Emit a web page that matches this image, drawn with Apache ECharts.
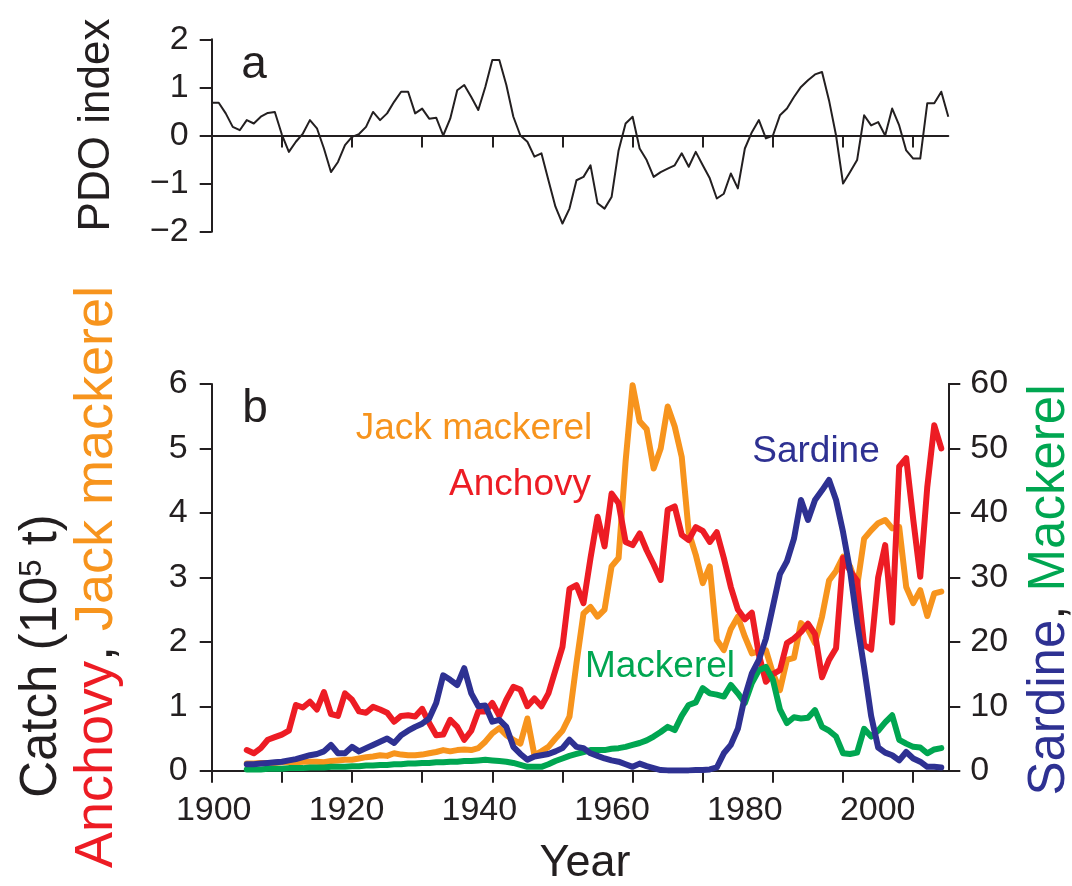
<!DOCTYPE html>
<html>
<head>
<meta charset="utf-8">
<script src="https://cdn.jsdelivr.net/npm/echarts@6/dist/echarts.min.js"></script>
<style>
html,body{margin:0;padding:0;background:#fff;}
#chart{width:1072px;height:886px;}
</style>
</head>
<body>
<div id="chart"></div>
<script>
// ---------- DATA ----------
const pdoStartYear = 1900;
const pdoIndex = [
  0.68, 0.68, 0.46, 0.18, 0.11, 0.32, 0.25, 0.39, 0.47, 0.49,
  0.02,-0.34,-0.13, 0.04, 0.32, 0.15,-0.27,-0.76,-0.55,-0.20,
 -0.03, 0.03, 0.18, 0.49, 0.32, 0.46, 0.70, 0.91, 0.91, 0.46,
  0.56, 0.35, 0.37, 0.00, 0.35, 0.94, 1.05, 0.80, 0.53, 1.01,
  1.57, 1.57, 1.05, 0.39, 0.00,-0.13,-0.44,-0.37,-0.93,-1.48,
 -1.83,-1.52,-0.93,-0.86,-0.62,-1.41,-1.52,-1.28,-0.31, 0.25,
  0.39,-0.27,-0.51,-0.86,-0.76,-0.69,-0.62,-0.37,-0.65,-0.34,
 -0.62,-0.89,-1.31,-1.21,-0.79,-1.10,-0.27, 0.07, 0.32,-0.06,
  0.00, 0.42, 0.56, 0.80, 1.01, 1.15, 1.27, 1.32, 0.73, 0.00,
 -1.00,-0.76,-0.51, 0.42, 0.21, 0.28, 0.00, 0.56, 0.21,-0.31,
 -0.48,-0.48, 0.67, 0.67, 0.91, 0.39
];

const catchStartYear = 1905;
// 10^5 t (left axis)
const anchovy = [
  0.32,0.27,0.35,0.48,0.52,0.56,0.62,1.02,0.98,1.07,
  0.95,1.22,0.88,0.85,1.20,1.10,0.92,0.90,0.99,0.95,
  0.90,0.76,0.85,0.86,0.84,0.96,0.74,0.55,0.56,0.79,
  0.68,0.48,0.62,0.92,0.92,1.05,0.85,1.10,1.30,1.26,
  1.00,1.12,1.00,1.20,1.56,1.92,2.82,2.88,2.60,3.30,
  3.94,3.48,4.30,4.15,3.55,3.50,3.68,3.42,3.20,2.96,
  4.05,4.10,3.66,3.58,3.78,3.72,3.55,3.70,3.30,2.85,
  2.50,2.35,2.45,1.80,1.38,1.50,1.56,1.98,2.05,2.15,
  2.28,2.12,1.45,1.72,1.90,3.30,3.10,2.95,1.95,1.88,
  3.00,3.50,2.30,4.72,4.85,3.90,3.01,4.40,5.36,5.00
];
const jackMackerel = [
  0.11,0.11,0.12,0.12,0.12,0.13,0.13,0.13,0.14,0.14,
  0.14,0.13,0.15,0.16,0.17,0.17,0.19,0.21,0.22,0.24,
  0.23,0.27,0.25,0.24,0.24,0.25,0.27,0.29,0.32,0.30,
  0.32,0.33,0.32,0.35,0.45,0.58,0.66,0.55,0.48,0.42,
  0.81,0.24,0.30,0.37,0.50,0.62,0.84,1.67,2.44,2.54,
  2.39,2.50,3.17,3.30,4.80,5.98,5.42,5.30,4.69,5.00,
  5.65,5.34,4.87,3.70,3.35,2.91,3.17,2.03,1.87,2.20,
  2.39,2.08,1.82,1.85,1.87,1.51,1.25,1.72,1.75,2.29,
  2.19,1.98,2.39,2.95,3.10,3.32,3.17,2.86,3.60,3.73,
  3.84,3.89,3.76,3.78,2.85,2.60,2.80,2.40,2.75,2.78
];
// 10^4 t (right axis)
const sardine = [
  1.0,1.0,1.1,1.2,1.3,1.4,1.6,1.8,2.1,2.4,
  2.6,3.0,4.0,2.7,2.7,3.7,3.0,3.5,4.0,4.5,
  5.0,4.3,5.5,6.2,6.8,7.3,8.1,10.5,14.8,14.1,
  13.3,15.9,12.0,10.0,10.1,7.6,7.9,6.8,3.7,2.6,
  1.7,2.2,2.4,2.6,3.0,3.5,4.8,3.7,3.5,2.7,
  2.3,1.9,1.6,1.4,1.0,0.6,1.1,0.7,0.4,0.1,
  0.05,0.05,0.05,0.05,0.1,0.1,0.2,0.5,2.7,4.0,
  6.5,11.5,15.1,17.2,20.5,25.5,30.5,32.5,36.0,42.0,
  38.9,42.0,43.5,45.1,42.0,37.0,31.0,23.0,16.0,8.5,
  3.6,2.8,2.4,1.6,2.9,1.9,1.4,0.6,0.6,0.5
];
const mackerel = [
  0.2,0.2,0.2,0.3,0.3,0.3,0.4,0.4,0.4,0.5,
  0.5,0.5,0.6,0.6,0.6,0.7,0.7,0.8,0.8,0.9,
  0.9,1.0,1.0,1.1,1.1,1.2,1.2,1.3,1.3,1.4,
  1.4,1.5,1.5,1.6,1.7,1.6,1.5,1.4,1.2,0.9,
  0.6,0.6,0.6,1.0,1.5,1.9,2.3,2.6,2.9,3.2,
  3.2,3.2,3.4,3.5,3.7,4.0,4.3,4.7,5.3,6.0,
  6.8,6.3,8.5,10.2,10.6,12.8,12.0,11.8,11.5,13.3,
  12.0,10.5,13.6,15.6,16.1,14.1,9.5,7.4,8.3,8.1,
  8.2,9.4,6.8,6.2,5.3,2.7,2.6,2.8,6.5,5.3,
  6.2,7.5,8.6,4.8,4.2,3.7,3.6,2.7,3.3,3.5
];

const yearTicks = [1900,1910,1920,1930,1940,1950,1960,1970,1980,1990,2000];
const yearLabels = [1900,1920,1940,1960,1980,2000];
const leftTicks = [0,1,2,3,4,5,6];
const rightTicks = [0,10,20,30,40,50,60];
const pdoTicks = [-2,-1,0,1,2];

// ---------- STYLE ----------
const FONT = 'Liberation Sans, Arial, Helvetica, sans-serif';
const INK = '#231F20';
const RED = '#ED1C24', ORANGE = '#F7941D', BLUE = '#2E3192', GREEN = '#00A651';

function pairs(start, arr){ return arr.map((v,i)=>[start+i, v]); }
const minus = v => String(v).replace('-', '\u2212');
const plain = v => String(v);

const axisLineStyle = {show:true, onZero:false, lineStyle:{color:INK, width:2}};
const tickStyle = {show:true, length:12, inside:false, lineStyle:{color:INK, width:2}};
const labelStyle = {color:INK, fontSize:34, fontFamily:FONT};
const LW = 6;

const chart = echarts.init(document.getElementById('chart'), null, {renderer:'canvas'});
chart.setOption({
  animation:false,
  backgroundColor:'#fff',
  grid:[
    {left:211.7, right:123.7, top:39.3, height:192.4},
    {left:211.7, right:123.7, top:384, height:386.7},
    {left:213.7, width:730.4, top:384, height:386.7}
  ],
  xAxis:[
    {type:'value', gridIndex:0, min:1900, max:2005,
     axisLine:{show:true, onZero:true, lineStyle:{color:INK, width:2}},
     axisTick:Object.assign({}, tickStyle, {customValues:yearTicks.slice(1)}),
     axisLabel:{show:false}, splitLine:{show:false}},
    {type:'value', gridIndex:1, min:1900, max:2005,
     axisLine:axisLineStyle,
     axisTick:Object.assign({}, tickStyle, {customValues:yearTicks}),
     axisLabel:{show:false}, splitLine:{show:false}},
    {type:'value', gridIndex:2, min:1900, max:2010,
     axisLine:{show:false}, axisTick:{show:false}, splitLine:{show:false},
     axisLabel:Object.assign({}, labelStyle, {margin:23, customValues:yearLabels, formatter:plain})}
  ],
  yAxis:[
    {type:'value', gridIndex:0, min:-2, max:2,
     axisLine:axisLineStyle,
     axisTick:Object.assign({}, tickStyle, {customValues:pdoTicks}),
     axisLabel:Object.assign({}, labelStyle, {margin:23, customValues:pdoTicks, formatter:minus}),
     splitLine:{show:false}},
    {type:'value', gridIndex:1, min:0, max:6, position:'left',
     axisLine:axisLineStyle,
     axisTick:Object.assign({}, tickStyle, {customValues:leftTicks}),
     axisLabel:Object.assign({}, labelStyle, {margin:24, customValues:leftTicks}),
     splitLine:{show:false}},
    {type:'value', gridIndex:1, min:0, max:60, position:'right',
     axisLine:axisLineStyle,
     axisTick:Object.assign({}, tickStyle, {customValues:rightTicks}),
     axisLabel:Object.assign({}, labelStyle, {margin:22, customValues:rightTicks}),
     splitLine:{show:false}},
    {type:'value', gridIndex:2, min:0, max:1, show:false}
  ],
  series:[
    {type:'line', xAxisIndex:0, yAxisIndex:0, data:pairs(pdoStartYear, pdoIndex),
     showSymbol:false, symbol:'none', lineStyle:{color:INK, width:2, join:'round'}},
    {type:'line', xAxisIndex:1, yAxisIndex:1, data:pairs(catchStartYear, jackMackerel),
     showSymbol:false, symbol:'none', lineStyle:{color:ORANGE, width:LW, join:'round', cap:'round'}},
    {type:'line', xAxisIndex:1, yAxisIndex:1, data:pairs(catchStartYear, anchovy),
     showSymbol:false, symbol:'none', lineStyle:{color:RED, width:LW, join:'round', cap:'round'}},
    {type:'line', xAxisIndex:1, yAxisIndex:2, data:pairs(catchStartYear, mackerel),
     showSymbol:false, symbol:'none', lineStyle:{color:GREEN, width:LW, join:'round', cap:'round'}},
    {type:'line', xAxisIndex:1, yAxisIndex:2, data:pairs(catchStartYear, sardine),
     showSymbol:false, symbol:'none', lineStyle:{color:BLUE, width:LW, join:'round', cap:'round'}}
  ],
  graphic:[
    {type:'text', x:254, y:65, style:{text:'a', fontSize:46, fontFamily:FONT, fill:INK, align:'center', verticalAlign:'middle'}},
    {type:'text', x:255, y:409, style:{text:'b', fontSize:46, fontFamily:FONT, fill:INK, align:'center', verticalAlign:'middle'}},
    {type:'text', x:474, y:429, style:{text:'Jack mackerel', fontSize:37, fontFamily:FONT, fill:ORANGE, align:'center', verticalAlign:'middle'}},
    {type:'text', x:520, y:485, style:{text:'Anchovy', fontSize:37, fontFamily:FONT, fill:RED, align:'center', verticalAlign:'middle'}},
    {type:'text', x:816, y:452, style:{text:'Sardine', fontSize:37, fontFamily:FONT, fill:BLUE, align:'center', verticalAlign:'middle'}},
    {type:'text', x:660, y:667, style:{text:'Mackerel', fontSize:37, fontFamily:FONT, fill:GREEN, align:'center', verticalAlign:'middle'}},
    {type:'text', x:97, y:125, rotation:Math.PI/2, style:{text:'PDO index', fontSize:44, fontFamily:FONT, fill:INK, align:'center', verticalAlign:'middle'}},
    {type:'text', x:585, y:864, style:{text:'Year', fontSize:45, fontFamily:FONT, fill:INK, align:'center', verticalAlign:'middle'}},
    {type:'text', x:42, y:656, rotation:Math.PI/2, style:{
      text:'{n|Catch (10}{s|5}{n| t)}', align:'center', verticalAlign:'middle',
      rich:{n:{fontSize:51, fontFamily:FONT, fill:INK, color:INK}, s:{fontSize:31, fontFamily:FONT, fill:INK, color:INK, verticalAlign:'top'}}}},
    {type:'text', x:97, y:577, rotation:Math.PI/2, style:{
      text:'{r|Anchovy}{k|, }{o|Jack mackerel}', align:'center', verticalAlign:'middle',
      rich:{r:{fontSize:54, fontFamily:FONT, fill:RED, color:RED}, k:{fontSize:54, fontFamily:FONT, fill:INK, color:INK}, o:{fontSize:54, fontFamily:FONT, fill:ORANGE, color:ORANGE}}}},
    {type:'text', x:1050, y:590, rotation:Math.PI/2, style:{
      text:'{b|Sardine}{k|, }{g|Mackerel}', align:'center', verticalAlign:'middle',
      rich:{b:{fontSize:51, fontFamily:FONT, fill:BLUE, color:BLUE}, k:{fontSize:51, fontFamily:FONT, fill:INK, color:INK}, g:{fontSize:51, fontFamily:FONT, fill:GREEN, color:GREEN}}}}
  ]
});
</script>
</body>
</html>
